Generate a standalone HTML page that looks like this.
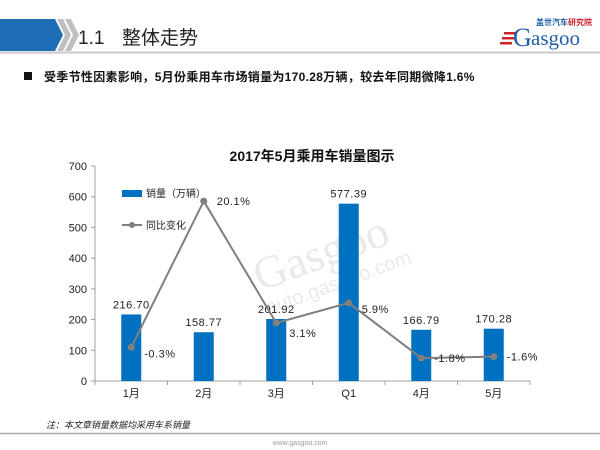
<!DOCTYPE html>
<html><head><meta charset="utf-8"><style>
body{margin:0;width:600px;height:450px;background:#fff;overflow:hidden;font-family:"Liberation Sans","Noto Sans CJK SC",sans-serif;}
svg{display:block}
</style></head><body>
<svg width="600" height="450" xmlns="http://www.w3.org/2000/svg">
<g>
<polygon points="0,19 55,19 63,35 55,51 0,51" fill="#1F6DB5"/>
<polygon points="57,19 63,19 71,35 63,51 57,51 65,35" fill="#BFBFBF"/>
<polygon points="65,19 71,19 79,35 71,51 65,51 73,35" fill="#BFBFBF"/>
<line x1="0" y1="52.5" x2="600" y2="52.5" stroke="#C8C8C8" stroke-width="2"/>
<text x="78" y="44" font-size="19" fill="#222">1.1<tspan x="122">整体走势</tspan></text>
<g>
<text x="592" y="25" font-size="8" font-weight="bold" text-anchor="end" fill="#1F5FA8">盖世汽车<tspan fill="#D0202A">研究院</tspan></text>
<rect x="504" y="32" width="12" height="2.5" fill="#D0202A"/><rect x="502" y="37" width="12" height="2.5" fill="#D0202A"/><rect x="500" y="42" width="12" height="2.5" fill="#D0202A"/>
<text x="513" y="46" font-size="26" font-family="Liberation Serif,serif" fill="#1F5FA8">G</text>
<text x="531" y="45" font-size="21" font-family="Liberation Serif,serif" fill="#1F5FA8">asgoo</text>
</g>
</g>
<rect x="24" y="72" width="8" height="8" fill="#111"/>
<text x="44" y="81" font-size="12" font-weight="bold" fill="#111" letter-spacing="0.3">受季节性因素影响，5月份乘用车市场销量为170.28万辆，较去年同期微降1.6%</text>
<text x="312" y="161" font-size="14" font-weight="bold" text-anchor="middle" fill="#111">2017年5月乘用车销量图示</text>
<g opacity="0.18" fill="#888" transform="rotate(-20 330 250)">
<text x="250" y="265" font-size="46" font-family="Liberation Serif,serif">Gasgoo</text>
<text x="250" y="290" font-size="20">auto.gasgoo.com</text>
</g>
<g id="chart"></g>
<g>
<rect x="122" y="190" width="20" height="7" fill="#0070C0"/>
<text x="146" y="197" font-size="10" fill="#222">销量（万辆）</text>
<line x1="122" y1="225" x2="142" y2="225" stroke="#7F7F7F" stroke-width="2"/><circle cx="132" cy="225" r="3" fill="#7F7F7F"/>
<text x="146" y="229" font-size="10" fill="#222">同比变化</text>
</g>
<text x="46" y="428" font-size="9" font-style="italic" fill="#222">注：本文章销量数据均采用车系销量</text>
<line x1="0" y1="433.5" x2="600" y2="433.5" stroke="#AAAAAA" stroke-width="1.5"/>
<text x="300" y="445" font-size="7" text-anchor="middle" fill="#999">www.gasgoo.com</text>
</svg>
<script>
const categories=["1月","2月","3月","Q1","4月","5月"];
const sales=[216.70,158.77,201.92,577.39,166.79,170.28];
const salesLabels=["216.70","158.77","201.92","577.39","166.79","170.28"];
const yoy=[-0.3,20.1,3.1,5.9,-1.8,-1.6];
const yoyLabels=["-0.3%","20.1%","3.1%","5.9%","-1.8%","-1.6%"];
const yTicks=[0,100,200,300,400,500,600,700];
const NS="http://www.w3.org/2000/svg";
const g=document.getElementById('chart');
const x0=95,x1=530,yBase=381,yTop=166;
const bw=(x1-x0)/categories.length;
const xc=i=>x0+bw*(i+0.5);
const y=v=>yBase-(v/700)*(yBase-yTop);
const y2=p=>yBase-((p+5)/30)*(yBase-yTop);
function el(t,a,txt){const e=document.createElementNS(NS,t);for(const k in a)e.setAttribute(k,a[k]);if(txt!=null)e.textContent=txt;g.appendChild(e);return e;}
el('line',{x1:x0,y1:yTop,x2:x0,y2:yBase,stroke:'#A0A0A0'});
el('line',{x1:x0,y1:yBase,x2:x1,y2:yBase,stroke:'#A0A0A0'});
yTicks.forEach(t=>{
const tk=el('line',{x1:x0-4,y1:y(t),x2:x0,y2:y(t),stroke:'#A0A0A0'});


const l=el('text',{x:x0-8,y:y(t)+4,'font-size':11,'text-anchor':'end',fill:'#222'},t);


});
for(let i=0;i<=categories.length;i++){el('line',{x1:x0+bw*i,y1:yBase,x2:x0+bw*i,y2:yBase+4,stroke:'#A0A0A0'});}
categories.forEach((c,i)=>{
const l=el('text',{x:xc(i),y:yBase+16,'font-size':11,'text-anchor':'middle',fill:'#222'},c);


const b=el('rect',{x:xc(i)-10,y:y(sales[i]),width:20,height:yBase-y(sales[i]),fill:'#0070C0'});


const v=el('text',{x:xc(i),y:y(sales[i])-6,'font-size':11,'text-anchor':'middle',fill:'#222','letter-spacing':'0.5'},salesLabels[i]);


});
const pts=yoy.map((p,i)=>xc(i)+','+y2(p)).join(' ');
const pl=el('polyline',{points:pts,fill:'none',stroke:'#7F7F7F','stroke-width':2});


yoy.forEach((p,i)=>{
const c=el('circle',{cx:xc(i),cy:y2(p),r:3.5,fill:'#7F7F7F'});


const l=el('text',{x:xc(i)+13,y:y2(p)+4+(i==0?6:i==2?10:i==3?6:0),'font-size':11,fill:'#222','letter-spacing':'0.5'},yoyLabels[i]);


});
</script>
</body></html>
